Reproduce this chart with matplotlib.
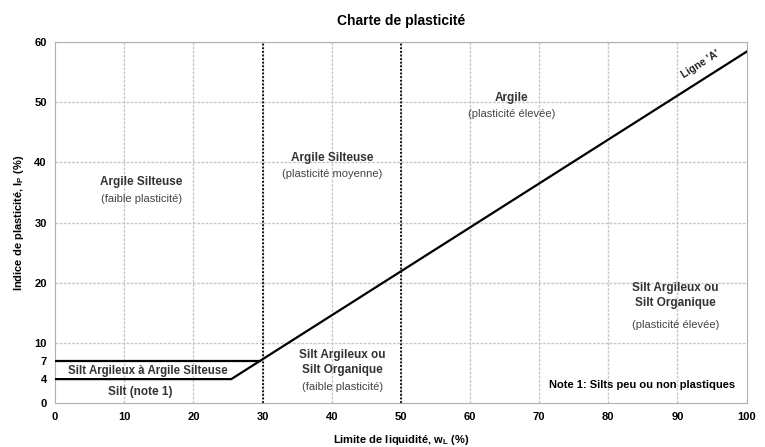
import matplotlib
matplotlib.use("Agg")
import matplotlib.pyplot as plt
import numpy as np

plt.rcParams['font.family'] = ['Liberation Sans Narrow', 'Liberation Sans', 'DejaVu Sans']

# A-line: Ip = 0.73 (wL - 20)
a_slope = 0.73
a_offset = 20
wl_end = 100
ip_low = 4
ip_high = 7
limits_wl = [30, 50]
xticks = [0, 10, 20, 30, 40, 50, 60, 70, 80, 90, 100]
yticks = [0, 4, 7, 10, 20, 30, 40, 50, 60]

zones = [
    ("Argile Silteuse", "(faible plasticité)", 12.5, 36.7),
    ("Argile Silteuse", "(plasticité moyenne)", 40, 40.7),
    ("Argile", "(plasticité élevée)", 66, 50.7),
]
zones2 = [
    ("Silt Argileux ou\nSilt Organique", "(plasticité élevée)", 89.7, 17.9, 13.0),
    ("Silt Argileux ou\nSilt Organique", "(faible plasticité)", 41.5, 6.7, 2.7),
]

fig = plt.figure(figsize=(7.65, 4.47), dpi=100)
ax = fig.add_axes([0.072, 0.098, 0.904, 0.808])

ax.set_xlim(0, 100)
ax.set_ylim(0, 60)
ax.set_xticks(xticks)
ax.set_yticks(yticks)
for v in range(10, 100, 10):
    ax.axvline(v, color='#c8c8c8', lw=1, ls=(0, (2, 1)), zorder=0)
for v in range(10, 61, 10):
    ax.axhline(v, color='#c8c8c8', lw=1, ls=(0, (2, 1)), zorder=0)
for s in ax.spines.values():
    s.set_color('#b0b0b0')
    s.set_linestyle((0, (2, 1)))
ax.tick_params(length=0, labelsize=8, pad=6)
for lab in ax.get_xticklabels() + ax.get_yticklabels():
    lab.set_fontweight('bold')

for v in limits_wl:
    ax.axvline(v, color='black', lw=1.3, ls=(0, (1, 1)), zorder=2)

x4 = a_offset + ip_low / a_slope
x7 = a_offset + ip_high / a_slope
ax.plot([0, x4, wl_end], [ip_low, ip_low, a_slope * (wl_end - a_offset)], color='black', lw=1.6, zorder=3)
ax.plot([0, x7], [ip_high, ip_high], color='black', lw=1.6, zorder=3)

for t1, t2, x, y in zones:
    ax.text(x, y, t1, ha='center', va='center', fontsize=8.5, fontweight='bold', color='#333333')
    ax.text(x, y - 2.7, t2, ha='center', va='center', fontsize=8, color='#444444')
for t1, t2, x, y, y2 in zones2:
    ax.text(x, y, t1, ha='center', va='center', fontsize=8.5, fontweight='bold', color='#333333', linespacing=1.35)
    ax.text(x, y2, t2, ha='center', va='center', fontsize=8, color='#444444')

ax.text(13.4, 5.3, "Silt Argileux à Argile Silteuse", ha='center', va='center', fontsize=8.3, fontweight='bold', color='#333333')
ax.text(12.3, 1.8, "Silt (note 1)", ha='center', va='center', fontsize=8.5, fontweight='bold', color='#333333')
ax.text(98.3, 3, "Note 1: Silts peu ou non plastiques", ha='right', va='center', fontsize=8, fontweight='bold', color='black')

# angle of the A-line on screen
p1 = ax.transData.transform((60, a_slope * 40))
p2 = ax.transData.transform((90, a_slope * 70))
ang = np.degrees(np.arctan2(p2[1] - p1[1], p2[0] - p1[0]))
ax.text(93.3, 56.3, "Ligne 'A'", rotation=ang, ha='center', va='center', fontsize=7.5, fontweight='bold', color='#222222', rotation_mode='anchor')

ax.set_title("Charte de plasticité", fontsize=10, fontweight='bold', pad=12)
ax.set_xlabel("Limite de liquidité, w$_\\mathregular{L}$ (%)", fontsize=8, fontweight='bold', labelpad=8)
ax.set_ylabel("Indice de plasticité, I$_\\mathregular{P}$ (%)", fontsize=8, fontweight='bold', labelpad=6)

fig.savefig("out.png", dpi=100)
